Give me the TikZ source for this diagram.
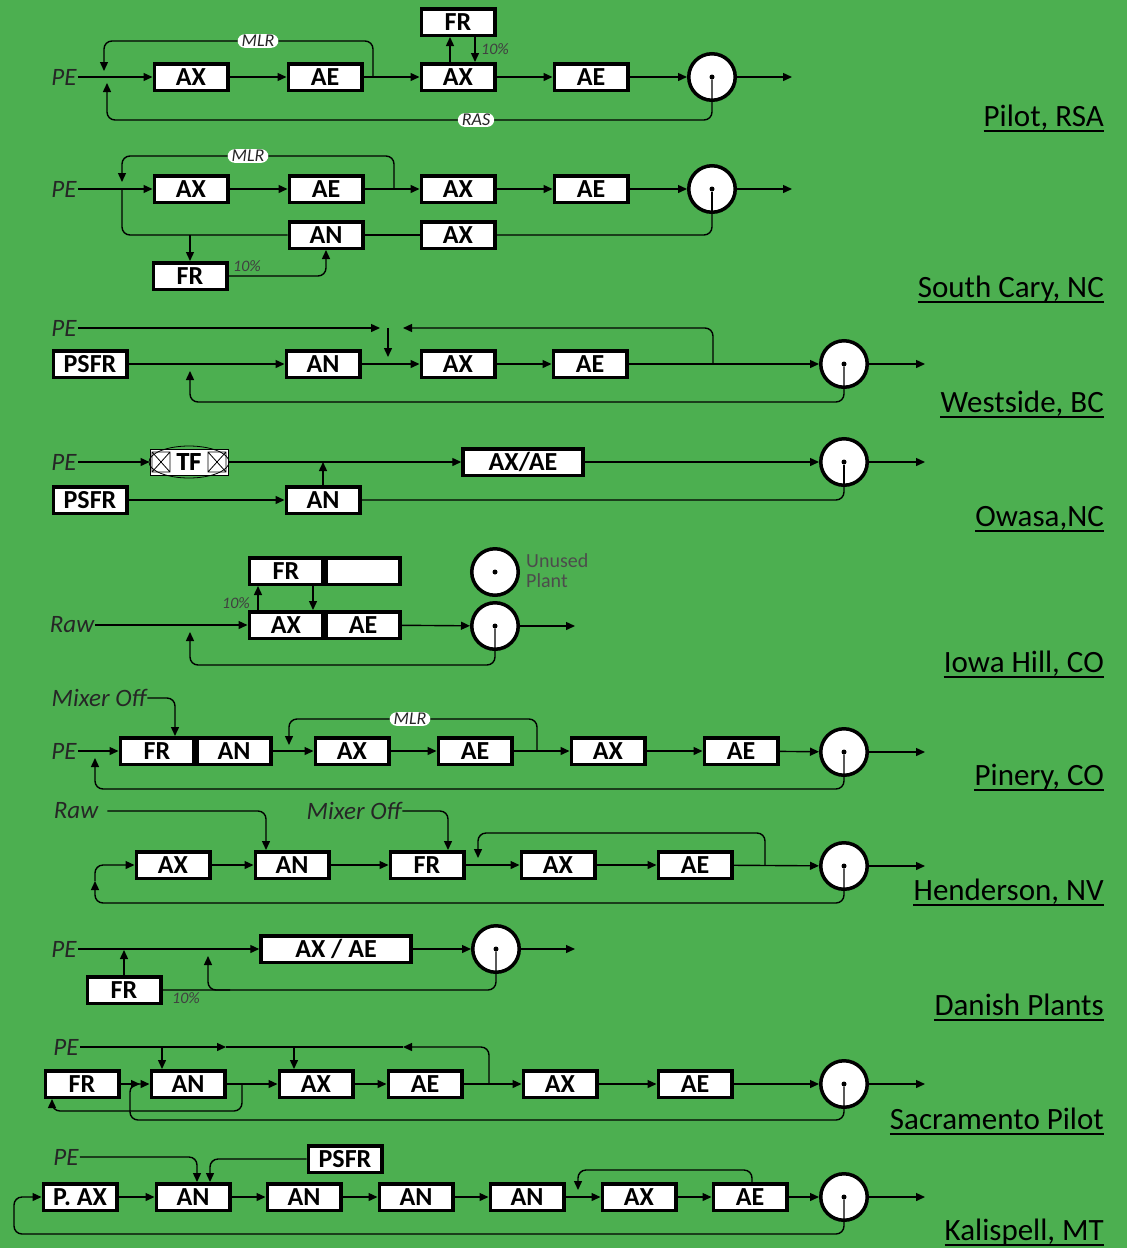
\documentclass[tikz,border=0pt]{standalone}
\usepackage{fontspec}
\setmainfont{Carlito}
\usetikzlibrary{arrows.meta}
\definecolor{bg}{RGB}{76,175,80}
\newcommand\boxfont{\fontsize{26}{30}\selectfont\bfseries}
\newcommand\italfont{\fontsize{25}{30}\selectfont\itshape}
\newcommand\sitefont{\fontsize{31}{36}\selectfont}
\newcommand\pillfont{\fontsize{18}{20}\selectfont\itshape}
\newcommand\pctfont{\fontsize{16}{18}\selectfont\itshape}
\newcommand\unfont{\fontsize{20}{20}\selectfont}
\begin{document}
\begin{tikzpicture}[x=1pt,y=-1pt,
 box/.style={draw, line width=3.5pt, fill=white, minimum width=73.5pt, minimum height=26.5pt, inner sep=0pt, font=\boxfont},
 tf/.style={draw, line width=1pt, fill=white, minimum width=78pt, minimum height=26pt, inner sep=0pt, font=\boxfont},
 clar/.style={circle, draw, line width=3.5pt, fill=white, minimum size=46.5pt, inner sep=0pt},
 ital/.style={font=\italfont, text=black!85, inner sep=1pt},
 site/.style={font=\sitefont, anchor=base east, inner sep=0pt},
 uline/.style={line width=1.6pt},
 pill/.style={fill=white, rounded corners=7pt, inner xsep=4pt, inner ysep=1pt, font=\pillfont, text=black!85},
 pct/.style={font=\pctfont, text=black!75, inner sep=0pt},
 ln/.style={line width=1.4pt, rounded corners=8pt},
 arr/.style={ln, -{Triangle[length=9pt,width=8pt]}},
 dot/.style={circle, fill=black, inner sep=0pt, minimum size=5pt},
 unused/.style={font=\unfont, text=black!70, anchor=base west, inner sep=0pt}
]
\fill[bg] (0,0) rectangle (1127,1248);
\useasboundingbox (0,0) rectangle (1127,1248);

% ===== Row 1: Pilot, RSA =====
\node[ital] (r1pe) at (64,77) {PE};
\node[box] (r1ax1) at (191,77) {AX};
\node[box] (r1ae1) at (325,77) {AE};
\node[box] (r1ax2) at (458,77) {AX};
\node[box] (r1ae2) at (591,77) {AE};
\node[box] (r1fr) at (458,22) {FR};
\node[clar] (r1c) at (712,77) {};
\node[dot] (r1d) at (r1c.center) {};
\coordinate (r1o) at (792,77);
\coordinate (r1m) at (373,77);
\coordinate (r1mt) at (104,71);
\coordinate (r1rt) at (107,83);
\draw[arr] (r1pe) -- (r1ax1);
\draw[arr] (r1ax1) -- (r1ae1);
\draw[arr] (r1ae1) -- (r1ax2);
\draw[arr] (r1ax2) -- (r1ae2);
\draw[arr] (r1ae2) -- (r1c);
\draw[arr] (r1c) -- (r1o);
\draw[arr] (r1m) -- (373,41) -- (104,41) -- (r1mt);
\draw[arr] (r1d) -- (712,120) -- (107,120) -- (r1rt);
\draw[arr] ([xshift=-8pt]r1ax2.north) -- ([xshift=-8pt]r1fr.south);
\draw[arr] ([xshift=17pt]r1fr.south) -- ([xshift=17pt]r1ax2.north);
\node[pill] (r1mlr) at (258,41) {MLR};
\node[pill] (r1ras) at (476,120) {RAS};
\node[pct, anchor=west] (r1p) at (481,49) {10\%};
\node[site] (s1) at (1104,126) {Pilot, RSA};
\draw[uline] ([yshift=-5pt]s1.base west) -- ([yshift=-5pt]s1.base east);

% ===== Row 2: South Cary =====
\node[ital] (r2pe) at (64,189) {PE};
\node[box] (r2ax1) at (191,189) {AX};
\node[box] (r2ae1) at (326,189) {AE};
\node[box] (r2ax2) at (458,189) {AX};
\node[box] (r2ae2) at (591,189) {AE};
\node[box] (r2an) at (326,235) {AN};
\node[box] (r2ax3) at (458,235) {AX};
\node[box] (r2fr) at (190,276) {FR};
\node[clar] (r2c) at (712,189) {};
\node[dot] (r2d) at (r2c.center) {};
\coordinate (r2o) at (792,189);
\coordinate (r2m) at (394,189);
\coordinate (r2mt) at (122,182);
\coordinate (r2j) at (122,189);
\coordinate (r2k) at (190,235);
\draw[arr] (r2pe) -- (r2ax1);
\draw[arr] (r2ax1) -- (r2ae1);
\draw[arr] (r2ae1) -- (r2ax2);
\draw[arr] (r2ax2) -- (r2ae2);
\draw[arr] (r2ae2) -- (r2c);
\draw[arr] (r2c) -- (r2o);
\draw[arr] (r2m) -- (394,156) -- (122,156) -- (r2mt);
\draw[ln] (r2j) -- (122,235) -- (r2an.west);
\draw[arr] (r2k) -- (r2fr.north);
\draw[arr] (r2fr.east) -| (r2an.south);
\draw[ln] (r2an) -- (r2ax3);
\draw[ln] (r2ax3.east) -| (r2c.south);
\draw[ln] (r2d) -- (r2c.south);
\node[pill] (r2mlr) at (248,156) {MLR};
\node[pct, anchor=west] (r2p) at (233,266) {10\%};
\node[site] (s2) at (1104,297) {South Cary, NC};
\draw[uline] ([yshift=-5pt]s2.base west) -- ([yshift=-5pt]s2.base east);

% ===== Row 3: Westside =====
\node[ital] (r3pe) at (64,328) {PE};
\node[box] (r3ps) at (90,364) {PSFR};
\node[box] (r3an) at (323,364) {AN};
\node[box] (r3ax) at (458,364) {AX};
\node[box] (r3ae) at (590,364) {AE};
\node[clar] (r3c) at (844,364) {};
\node[dot] (r3d) at (r3c.center) {};
\coordinate (r3a) at (380,328);
\coordinate (r3b) at (388,328);
\coordinate (r3bt) at (388,357);
\coordinate (r3r) at (713,364);
\coordinate (r3lt) at (403,328);
\coordinate (r3rt) at (190,371);
\coordinate (r3o) at (925,364);
\draw[arr] (r3pe) -- (r3a);
\draw[arr] (r3b) -- (r3bt);
\draw[arr] (r3r) -- (713,328) -- (r3lt);
\draw[arr] (r3ps) -- (r3an);
\draw[arr] (r3an) -- (r3ax);
\draw[arr] (r3ax) -- (r3ae);
\draw[arr] (r3ae) -- (r3c);
\draw[arr] (r3c) -- (r3o);
\draw[arr] (r3d) -- (844,402) -- (190,402) -- (r3rt);
\node[site] (s3) at (1104,412) {Westside, BC};
\draw[uline] ([yshift=-5pt]s3.base west) -- ([yshift=-5pt]s3.base east);

% ===== Row 4: Owasa =====
\node[ital] (r4pe) at (64,462) {PE};
\node[tf] (r4tf) at (189,462) {TF};
\begin{scope}[shift={(r4tf.center)}, line width=0.8pt]
 \draw (0,0) ellipse [x radius=40, y radius=16];
 \draw (-37,-10) rectangle (-19,10) (-37,-10) -- (-19,10) (-37,10) -- (-19,-10);
 \draw (19,-10) rectangle (37,10) (19,-10) -- (37,10) (19,10) -- (37,-10);
\end{scope}
\node[font=\boxfont, inner sep=0pt] (r4tft) at (r4tf.center) {TF};
\node[box, minimum width=120pt] (r4xe) at (523,462) {AX/AE};
\node[box] (r4ps) at (90,500) {PSFR};
\node[box] (r4an) at (323,500) {AN};
\node[clar] (r4c) at (844,462) {};
\node[dot] (r4d) at (r4c.center) {};
\coordinate (r4o) at (925,462);
\coordinate (r4j) at (323,462);
\draw[arr] (r4pe) -- (r4tf);
\draw[arr] (r4tf) -- (r4xe);
\draw[arr] (r4an) -- (r4j);
\draw[arr] (r4xe) -- (r4c);
\draw[arr] (r4c) -- (r4o);
\draw[arr] (r4ps) -- (r4an);
\draw[ln] (r4an.east) -| (r4c.south);
\draw[ln] (r4d) -- (r4c.south);
\node[site] (s4) at (1104,526) {Owasa,NC};
\draw[uline] ([yshift=-5pt]s4.base west) -- ([yshift=-5pt]s4.base east);

% ===== Row 5: Iowa Hill =====
\node[ital] (r5raw) at (72,625) {Raw};
\node[box] (r5ax) at (286,625) {AX};
\node[box] (r5ae) at (363,625) {AE};
\node[box] (r5fr) at (286,571) {FR};
\node[box] (r5em) at (363,571) {};
\node[clar] (r5c) at (495,626) {};
\node[dot] (r5d) at (r5c.center) {};
\node[clar] (r5u) at (495,572) {};
\node[dot] (r5ud) at (r5u.center) {};
\node[unused] (r5u1) at (526,567) {Unused};
\node[unused] (r5u2) at (526,587) {Plant};
\coordinate (r5o) at (575,626);
\coordinate (r5rt) at (190,632);
\draw[arr] (r5raw) -- (r5ax);
\draw[arr] ([xshift=-28pt]r5ax.north) -- ([xshift=-28pt]r5fr.south);
\draw[arr] ([xshift=27pt]r5fr.south) -- ([xshift=27pt]r5ax.north);
\draw[arr] (r5ae) -- (r5c);
\draw[arr] (r5c) -- (r5o);
\draw[arr] (r5d) -- (495,665) -- (190,665) -- (r5rt);
\node[pct, anchor=east] (r5p) at (250,603) {10\%};
\node[site] (s5) at (1104,672) {Iowa Hill, CO};
\draw[uline] ([yshift=-5pt]s5.base west) -- ([yshift=-5pt]s5.base east);

% ===== Row 6: Pinery =====
\node[ital] (r6mx) at (99,698) {Mixer Off};
\node[ital] (r6pe) at (64,751) {PE};
\node[box] (r6fr) at (157,751) {FR};
\node[box] (r6an) at (234,751) {AN};
\node[box] (r6ax1) at (352,751) {AX};
\node[box] (r6ae1) at (475,751) {AE};
\node[box] (r6ax2) at (608,751) {AX};
\node[box] (r6ae2) at (741,751) {AE};
\node[clar] (r6c) at (844,752) {};
\node[dot] (r6d) at (r6c.center) {};
\coordinate (r6o) at (925,752);
\coordinate (r6m) at (537,751);
\coordinate (r6mt) at (289,745);
\coordinate (r6rt) at (95,758);
\draw[arr] (r6mx.east) -| ([xshift=18pt]r6fr.north);
\draw[arr] (r6pe) -- (r6fr);
\draw[arr] (r6an) -- (r6ax1);
\draw[arr] (r6ax1) -- (r6ae1);
\draw[arr] (r6ae1) -- (r6ax2);
\draw[arr] (r6ax2) -- (r6ae2);
\draw[arr] (r6ae2) -- (r6c);
\draw[arr] (r6c) -- (r6o);
\draw[arr] (r6m) -- (537,719) -- (289,719) -- (r6mt);
\draw[arr] (r6d) -- (844,789) -- (95,789) -- (r6rt);
\node[pill] (r6mlr) at (410,719) {MLR};
\node[site] (s6) at (1104,785) {Pinery, CO};
\draw[uline] ([yshift=-5pt]s6.base west) -- ([yshift=-5pt]s6.base east);

% ===== Row 7: Henderson =====
\node[ital] (r7raw) at (76,811) {Raw};
\node[ital] (r7mx) at (354,811) {Mixer Off};
\node[box] (r7ax1) at (173,865) {AX};
\node[box] (r7an) at (292,865) {AN};
\node[box] (r7fr) at (427,865) {FR};
\node[box] (r7ax2) at (558,865) {AX};
\node[box] (r7ae) at (695,865) {AE};
\node[clar] (r7c) at (844,866) {};
\node[dot] (r7d) at (r7c.center) {};
\coordinate (r7o) at (925,866);
\coordinate (r7r) at (765,865);
\coordinate (r7rt) at (478,858);
\coordinate (r7up) at (95,881);
\draw[arr] ([xshift=8pt]r7raw.east) -| ([xshift=-26pt]r7an.north);
\draw[arr] (r7mx.east) -| ([xshift=21pt]r7fr.north);
\draw[arr] (r7ax1) -- (r7an);
\draw[arr] (r7an) -- (r7fr);
\draw[arr] (r7fr) -- (r7ax2);
\draw[arr] (r7ax2) -- (r7ae);
\draw[arr] (r7ae) -- (r7c);
\draw[arr] (r7c) -- (r7o);
\draw[arr] (r7r) -- (765,833) -- (478,833) -- (r7rt);
\draw[arr] (r7d) -- (844,903) -- (95,903) -- (r7up);
\draw[arr] (r7up) -- (95,865) -- (r7ax1.west);
\node[site] (s7) at (1104,900) {Henderson, NV};
\draw[uline] ([yshift=-5pt]s7.base west) -- ([yshift=-5pt]s7.base east);

% ===== Row 8: Danish =====
\node[ital] (r8pe) at (64,949) {PE};
\node[box, minimum width=150pt] (r8xe) at (336,949) {AX / AE};
\node[box] (r8fr) at (124,990) {FR};
\node[clar] (r8c) at (496,949) {};
\node[dot] (r8d) at (r8c.center) {};
\coordinate (r8o) at (575,949);
\coordinate (r8fu) at (124,950);
\coordinate (r8k) at (230,990);
\coordinate (r8kt) at (208,956);
\draw[arr] (r8pe) -- (r8xe);
\draw[arr] (r8xe) -- (r8c);
\draw[arr] (r8c) -- (r8o);
\draw[arr] (r8fr) -- (r8fu);
\draw[ln] (r8d) |- (r8fr.east);
\draw[arr] (r8k) -- (208,990) -- (r8kt);
\node[pct, anchor=west] (r8p) at (172,998) {10\%};
\node[site] (s8) at (1104,1015) {Danish Plants};
\draw[uline] ([yshift=-5pt]s8.base west) -- ([yshift=-5pt]s8.base east);

% ===== Row 9: Sacramento =====
\node[ital] (r9pe) at (66,1047) {PE};
\node[box] (r9fr) at (82,1084) {FR};
\node[box] (r9an) at (188,1084) {AN};
\node[box] (r9ax1) at (316,1084) {AX};
\node[box] (r9ae1) at (425,1084) {AE};
\node[box] (r9ax2) at (560,1084) {AX};
\node[box] (r9ae2) at (695,1084) {AE};
\node[clar] (r9c) at (844,1084) {};
\node[dot] (r9dd) at (r9c.center) {};
\coordinate (r9a) at (226,1047);
\coordinate (r9b) at (403,1047);
\coordinate (r9r) at (489,1084);
\coordinate (r9o) at (925,1084);
\coordinate (r9ft) at (140,1084);
\coordinate (r9s) at (242,1084);
\coordinate (r9d1) at (162,1047);
\coordinate (r9d2) at (294,1047);
\draw[arr] (r9pe) -- (r9a);
\draw[ln] (r9a) -- (r9b);
\draw[arr] (r9r) -- (489,1047) -- (r9b);
\draw[arr] (r9d1) -- ([xshift=-26pt]r9an.north);
\draw[arr] (r9d2) -- ([xshift=-22pt]r9ax1.north);
\draw[arr] (r9fr) -- (r9ft);
\draw[arr] (r9dd) -- (844,1120) -- (130,1120) -- (130,1084) -- (r9an.west);
\draw[arr] (r9s) -- (242,1111) -- (52,1111) -- ([xshift=-30pt]r9fr.south);
\draw[arr] (r9an) -- (r9ax1);
\draw[arr] (r9ax1) -- (r9ae1);
\draw[arr] (r9ae1) -- (r9ax2);
\draw[arr] (r9ax2) -- (r9ae2);
\draw[arr] (r9ae2) -- (r9c);
\draw[arr] (r9c) -- (r9o);
\node[site] (s9) at (1104,1129) {Sacramento Pilot};
\draw[uline] ([yshift=-5pt]s9.base west) -- ([yshift=-5pt]s9.base east);

% ===== Row 10: Kalispell =====
\node[ital] (r10pe) at (66,1157) {PE};
\node[box] (r10ps) at (345,1159) {PSFR};
\node[box] (r10pax) at (80,1197) {P. AX};
\node[box] (r10an1) at (193,1197) {AN};
\node[box] (r10an2) at (304,1197) {AN};
\node[box] (r10an3) at (416,1197) {AN};
\node[box] (r10an4) at (527,1197) {AN};
\node[box] (r10ax) at (639,1197) {AX};
\node[box] (r10ae) at (750,1197) {AE};
\node[clar] (r10c) at (844,1197) {};
\node[dot] (r10d) at (r10c.center) {};
\coordinate (r10o) at (925,1197);
\coordinate (r10rt) at (578,1190);
\draw[arr] (r10pe) -| ([xshift=4pt]r10an1.north);
\draw[arr] (r10ps) -| ([xshift=17pt]r10an1.north);
\draw[arr] (r10pax) -- (r10an1);
\draw[arr] (r10an1) -- (r10an2);
\draw[arr] (r10an2) -- (r10an3);
\draw[arr] (r10an3) -- (r10an4);
\draw[arr] (r10an4) -- (r10ax);
\draw[arr] (r10ax) -- (r10ae);
\draw[arr] (r10ae) -- (r10c);
\draw[arr] (r10c) -- (r10o);
\draw[arr] ([xshift=2pt]r10ae.north) -- (752,1170) -- (578,1170) -- (r10rt);
\draw[arr] (r10d) -- (844,1234) -- (14,1234) -- (14,1197) -- (r10pax.west);
\node[site] (s10) at (1104,1240) {Kalispell, MT};
\draw[uline] ([yshift=-5pt]s10.base west) -- ([yshift=-5pt]s10.base east);
\end{tikzpicture}
\end{document}
